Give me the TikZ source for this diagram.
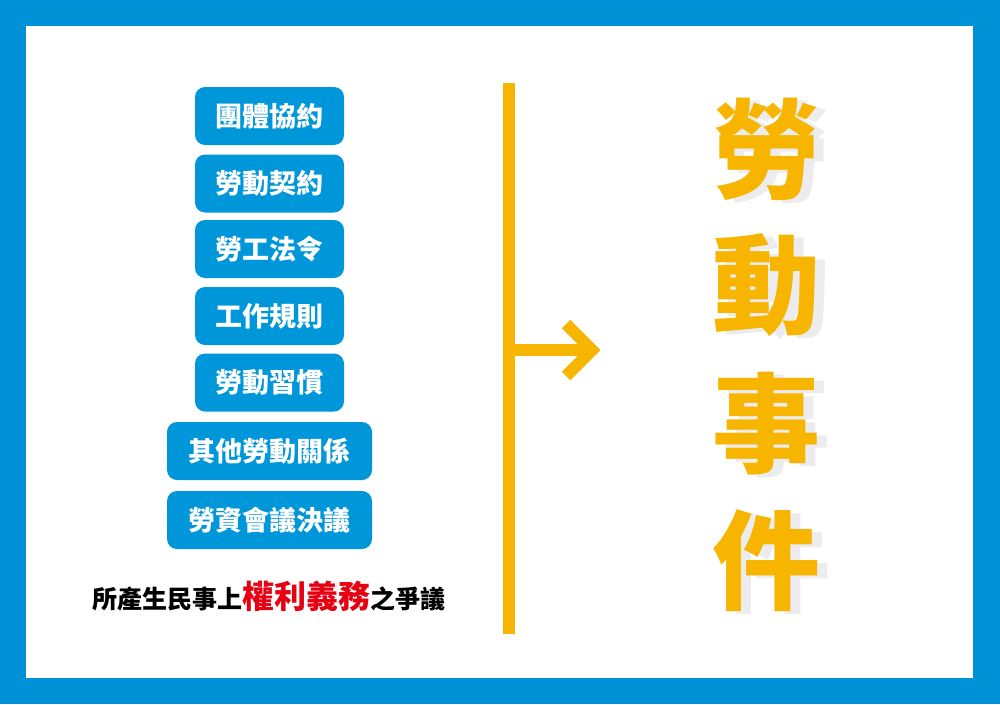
\documentclass[tikz,border=0pt]{standalone}
\usepackage{fontspec}
\newfontfamily\cjk{Noto Sans CJK TC}
\definecolor{frameblue}{RGB}{0,146,214}
\definecolor{boxblue}{RGB}{0,150,218}
\definecolor{gold}{RGB}{247,181,0}
\definecolor{shadowgray}{RGB}{236,236,238}
\definecolor{keyred}{RGB}{230,0,18}
\newcommand{\shadowed}[1]{\makebox[0pt][l]{\kern10pt\raisebox{-3pt}{\textcolor{shadowgray}{#1}}}\textcolor{gold}{#1}}
\tikzset{
  itembox/.style={draw=none, fill=boxblue, rounded corners=10pt, minimum height=58pt, text=white, inner sep=0pt, font=\cjk\bfseries\fontsize{27}{27}\selectfont},
  narrowbox/.style={itembox, minimum width=149pt},
  widebox/.style={itembox, minimum width=205pt},
  bigchar/.style={inner sep=0pt, anchor=center, font=\cjk\bfseries\fontsize{108}{108}\selectfont},
  goldline/.style={draw=gold, line width=12pt},
}
\begin{document}
\begin{tikzpicture}[x=1pt,y=-1pt]
\useasboundingbox (0,0) rectangle (1000,704);
\fill[frameblue] (0,0) rectangle (1000,704);
\fill[white] (26,26) rectangle (973,678);
% boxes
\node[narrowbox] (b1) at (269.5,116) {團體協約};
\node[narrowbox] (b2) at (269.5,183.5) {勞動契約};
\node[narrowbox] (b3) at (269.5,249) {勞工法令};
\node[narrowbox] (b4) at (269.5,316) {工作規則};
\node[narrowbox] (b5) at (269.5,382.5) {勞動習慣};
\node[widebox] (b6) at (269.5,451) {其他勞動關係};
\node[widebox] (b7) at (269.5,520) {勞資會議決議};
% bottom caption
\node[anchor=base west, inner sep=0pt, font=\cjk\bfseries] (cap) at (92,608)
  {\fontsize{25}{25}\selectfont 所產生民事上\textcolor{keyred}{\fontsize{32}{32}\selectfont 權利義務}之爭議};
% connector
\coordinate (vtop) at (509,83);
\coordinate (vbot) at (509,634);
\coordinate (vmid) at (509,350);
\coordinate (tip) at (592,350);
\coordinate (barbA) at (566,324);
\coordinate (barbB) at (566,376);
\draw[goldline] (vtop) -- (vbot);
\draw[goldline] (vmid) -- (tip);
\draw[goldline, miter limit=10] (barbA) -- (tip) -- (barbB);
% big characters with shadow
\node[bigchar] (c1) at (766,151) {\shadowed{勞}};
\node[bigchar] (c2) at (766,287) {\shadowed{動}};
\node[bigchar] (c3) at (766,425) {\shadowed{事}};
\node[bigchar] (c4) at (766,562) {\shadowed{件}};
\end{tikzpicture}
\end{document}
